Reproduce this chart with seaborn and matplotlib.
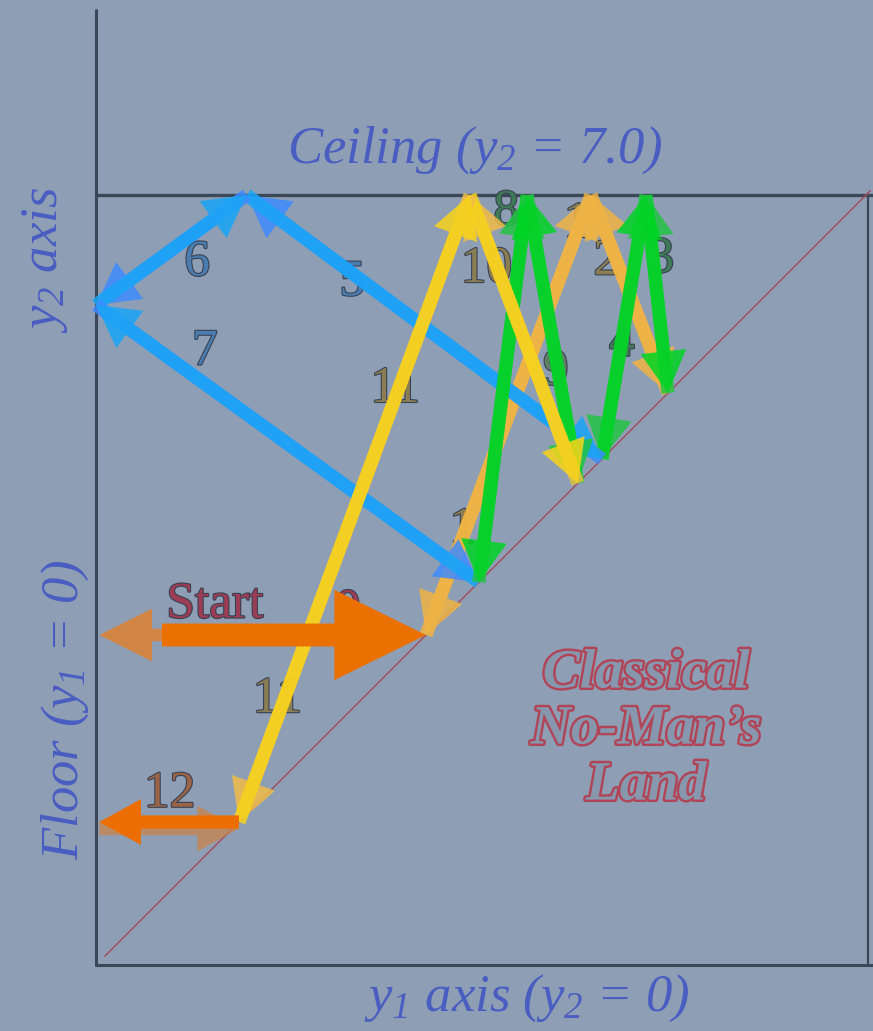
import numpy as np
import pandas as pd
import matplotlib
matplotlib.use("Agg")
import matplotlib.pyplot as plt
import matplotlib.patheffects as pe
from matplotlib.patches import FancyArrowPatch
import seaborn as sns

# bounce points of the path (y1, y2), in order of the numbered legs
path_y1 = [3.0, 4.5, 5.2, 5.0, 4.6, 1.37, 0.0, 3.48, 3.92, 4.38, 3.4, 1.3, 0.03]
path_y2 = [3.0, 7.0, 5.2, 7.0, 4.6, 7.0, 6.0, 3.48, 7.0, 4.38, 7.0, 1.3, 1.3]

# colour of each leg, forward head and reverse head
leg_fwd = ["#f0b444", "#f0b444", "#22c444", "#22c444", "#3f8aff", "#3f8aff",
           "#3f8aff", "#22c444", "#22c444", "#f0bc48", "#f0bc48", "#ec6e00"]
leg_rev = ["#f0b444", "#f0b444", "#00d424", "#00d424", "#18a6f6", "#18a6f6",
           "#18a6f6", "#00d424", "#00d424", "#f8d41a", "#f8d41a", "#c9824c"]

# start arrow: from the floor side to the diagonal
start_y1 = [0.6, 3.0]
start_y2 = [3.0, 3.0]
floor_y1 = 0.03

ceiling = 7.0

label_text = ["Start", "0", "1", "1", "2", "3", "4", "5", "6", "7", "8", "9",
              "10", "11", "11", "12"]
label_y1 = [1.08, 2.29, 3.33, 4.37, 4.64, 5.14, 4.78, 2.33, 0.92, 0.99, 3.73,
            4.18, 3.55, 2.72, 1.65, 0.67]
label_y2 = [3.27, 3.21, 3.95, 6.73, 6.39, 6.41, 5.65, 6.2, 6.38, 5.57, 6.84,
            5.39, 6.32, 5.23, 2.41, 1.55]
label_col = ["#9b3d55", "#9b3d55", "#8a7e52", "#8a7e52", "#8a7e52", "#3f7a58",
             "#3f7a58", "#4a7cb0", "#4a7cb0", "#4a7cb0", "#3f7a58", "#5f7e68",
             "#8a7e52", "#8a7e52", "#8a7e52", "#9a6448"]

bg = "#8e9fb5"
axis_col = "#3c4858"
text_blue = "#4a5ec2"

sns.set_theme(style="white")
plt.rcParams["font.family"] = ["Liberation Serif", "DejaVu Serif"]
plt.rcParams["mathtext.fontset"] = "custom"
plt.rcParams["mathtext.it"] = "Liberation Serif:italic"
plt.rcParams["mathtext.rm"] = "Liberation Serif:italic"

fig = plt.figure(figsize=(8.73, 10.31), dpi=100, facecolor=bg)
ax = fig.add_axes([0, 0, 1, 1])
ax.set_facecolor(bg)
ax.set_xlim(-96 / 110, 777 / 110)
ax.set_ylim(-66 / 110, 965 / 110)
ax.set_axis_off()


def line(x, y, color, lw, z=2):
    sns.lineplot(x=x, y=y, ax=ax, color=color, lw=lw, estimator=None,
                 sort=False, zorder=z)


line([0, 0], [0, 8.68], axis_col, 2.2)
line([0, 7.07], [0, 0], axis_col, 2.2)
line([0, 7.07], [ceiling, ceiling], axis_col, 2.4)
line([7.02, 7.02], [0, ceiling], axis_col, 1.6)
line([0.08, 7.04], [0.08, 7.04], "#a4485c", 1.0)


def arrow(p, q, color, tail=9.5, hw=33, hl=30, alpha=0.85, z=5):
    style = f"simple,head_length={hl},head_width={hw},tail_width={tail}"
    ax.add_patch(FancyArrowPatch(p, q, arrowstyle=style, mutation_scale=1,
                                 color=color, alpha=alpha, lw=0,
                                 shrinkA=0, shrinkB=0, zorder=z))


# number labels sit under the arrows
stroke = [pe.withStroke(linewidth=1.6, foreground="#3a4252")]
for t, x, y, c in zip(label_text, label_y1, label_y2, label_col):
    ax.text(x, y, t, color=c, fontsize=37, ha="center", va="center",
            path_effects=stroke, zorder=3)

for i in range(len(path_y1) - 1):
    p = (path_y1[i], path_y2[i])
    q = (path_y1[i + 1], path_y2[i + 1])
    if i == len(path_y1) - 2:
        # last leg: the dark orange one lies on top, the pale one a bit lower
        arrow((q[0], q[1] - 0.06), (p[0], p[1] - 0.06), leg_rev[i], alpha=0.75,
              z=5.2)
        arrow(p, q, leg_fwd[i], alpha=1.0, z=5.3)
    else:
        arrow(p, q, leg_fwd[i], z=5 + i * 0.01)
        arrow(q, p, leg_rev[i], z=5.005 + i * 0.01)

# start arrows
arrow((start_y1[0], start_y2[0]), (floor_y1, start_y2[0]), "#d9843a",
      tail=9, hw=38, hl=38, alpha=0.9, z=6)
arrow((start_y1[0], start_y2[0]), (start_y1[1], start_y2[1]), "#ea7000",
      tail=16.5, hw=65, hl=66, alpha=1.0, z=6.1)

# text
ax.text(3.445, 7.41, r"Ceiling ($y_2$ = 7.0)", color=text_blue, fontsize=38,
        style="italic", ha="center", va="center")
ax.text(3.92, -0.30, r"$y_1$ axis ($y_2$ = 0)", color=text_blue, fontsize=38,
        style="italic", ha="center", va="center")
ax.text(-0.46, 6.41, r"$y_2$ axis", color=text_blue, fontsize=38,
        style="italic", ha="center", va="center", rotation=90)
ax.text(-0.28, 2.32, r"Floor ($y_1$ = 0)", color=text_blue, fontsize=38,
        style="italic", ha="center", va="center", rotation=90)

ax.text(5.0, 2.14, "Classical\nNo-Man\u2019s\nLand", color="#8797ad",
        fontsize=40, weight="bold", style="italic", ha="center", va="center",
        linespacing=1.1,
        path_effects=[pe.Stroke(linewidth=3.5, foreground="#b04558"), pe.Normal()],
        zorder=4)

fig.savefig("out.png", dpi=100, facecolor=bg)
